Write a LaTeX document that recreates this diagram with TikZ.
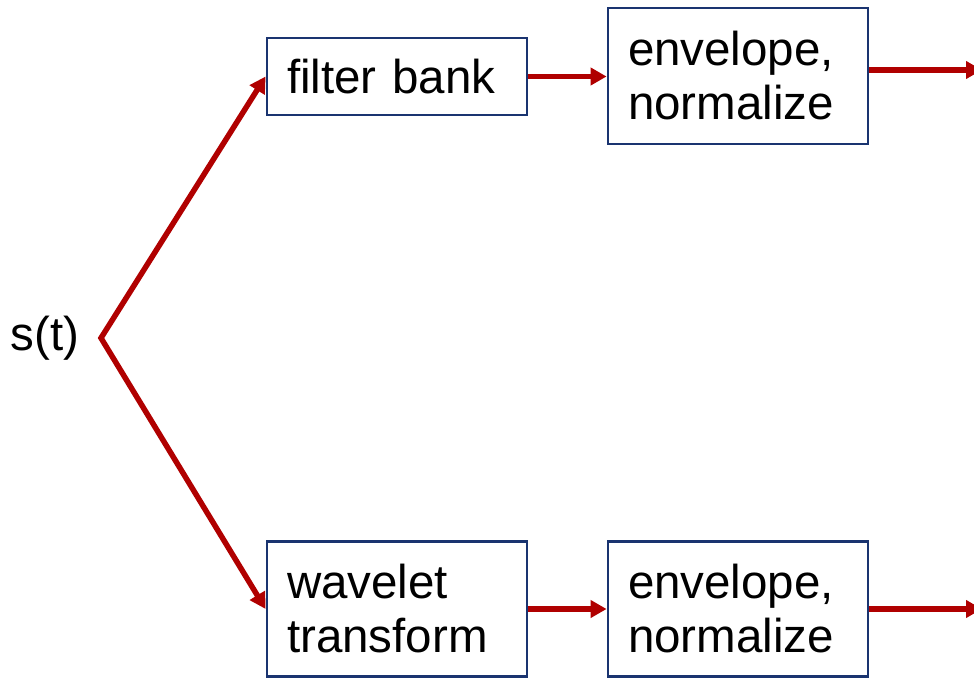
\documentclass[tikz,border=0pt]{standalone}
\usepackage{fontspec}
\setmainfont{Liberation Sans}
\usetikzlibrary{arrows.meta}
\definecolor{arrred}{HTML}{B00000}
\definecolor{boxblue}{HTML}{1A3470}
\tikzset{
  blockbox/.style={draw=boxblue, line width=2.8pt, fill=white, minimum width=260pt,
    text width=220pt, inner xsep=20pt, inner ysep=0pt, align=left,
    font=\fontsize{47.5}{54}\selectfont},
  arr/.style={draw=arrred, line width=5.5pt, -{Triangle[length=16pt,width=17pt]}},
  arrtwo/.style={draw=arrred, line width=5.5pt, line join=miter,
    {Triangle[length=16pt,width=17pt]}-{Triangle[length=16pt,width=17pt]}},
}
\begin{document}
\begin{tikzpicture}[x=1pt,y=-1pt]
\useasboundingbox (0,0) rectangle (974,677);
\clip (0,0) rectangle (974,677);
\node[blockbox, minimum height=77pt] (fb) at (397,76.5) {filter bank};
\node[blockbox, minimum height=136pt] (env1) at (738,76) {envelope,\\normalize};
\node[blockbox, minimum height=135pt] (wt) at (397,609) {wavelet\\transform};
\node[blockbox, minimum height=135pt] (env2) at (738,609) {envelope,\\normalize};
\node[font=\fontsize{47.5}{54}\selectfont, inner sep=0pt] (s) at (45,338) {s(t)};
\coordinate (v) at (101,338);
\coordinate (o1) at (982,70);
\coordinate (o2) at (982,609);
\draw[arrtwo] (fb.west) -- (v) -- (wt.west);
\draw[arr] (fb.east) -- (env1.west |- fb.east);
\draw[arr] (wt.east) -- (env2.west |- wt.east);
\draw[arr] (env1.east |- o1) -- (o1);
\draw[arr] (env2.east |- o2) -- (o2);
\end{tikzpicture}
\end{document}
